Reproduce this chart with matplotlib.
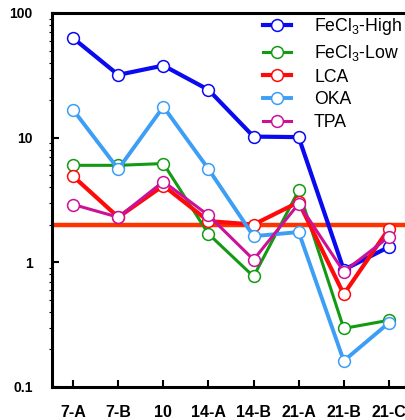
import matplotlib
matplotlib.use("Agg")
import matplotlib.pyplot as plt
from matplotlib.ticker import LogLocator, NullFormatter

categories = ["7-A", "7-B", "10", "14-A", "14-B", "21-A", "21-B", "21-C"]
fecl3_high = [62.8, 31.9, 37.9, 24.2, 10.2, 10.1, 0.87, 1.33]
fecl3_low = [6.0, 6.0, 6.2, 1.69, 0.77, 3.77, 0.295, 0.343]
lca = [4.9, 2.3, 4.13, 2.14, 2.01, 3.04, 0.555, 1.86]
oka = [16.7, 5.6, 17.7, 5.6, 1.62, 1.75, 0.162, 0.327]
tpa = [2.91, 2.3, 4.45, 2.38, 1.05, 2.95, 0.84, 1.6]
threshold = 2.0

series = [
    ("FeCl$_3$-High", fecl3_high, "#0A0AF0", 3.0),
    ("FeCl$_3$-Low", fecl3_low, "#139A13", 2.2),
    ("LCA", lca, "#FF0A0A", 3.0),
    ("OKA", oka, "#3D9EF5", 2.8),
    ("TPA", tpa, "#CC1199", 2.2),
]

plt.rcParams['font.family'] = ['Liberation Sans', 'DejaVu Sans']
plt.rcParams['mathtext.fontset'] = 'custom'
plt.rcParams['mathtext.rm'] = 'Liberation Sans'
fig = plt.figure(figsize=(4.06, 4.20), dpi=100)
ax = fig.add_axes([52/406, 1-387/420, 1-52/406, (387-13)/420])

x = list(range(len(categories)))
ax.axhline(threshold, color="#FF3300", lw=3.2, zorder=1)
draw_order = [3, 1, 4, 2, 0]
handles = {}
for i in draw_order:
    name, vals, col, lw = series[i]
    h, = ax.plot(x, vals, color=col, lw=lw, marker='o', ms=8.5,
                 mfc='white', mec=col, mew=1.1, label=name, zorder=2+i*0.1)
    handles[i] = h

ax.set_yscale('log')
ax.set_ylim(0.1, 100)
ax.set_xlim(-0.47, 7.38)
ax.set_xticks(x)
ax.set_xticklabels(categories, fontsize=11.5, fontweight='bold')
ax.set_yticks([0.1, 1, 10, 100])
ax.set_yticklabels(["0.1", "1", "10", "100"], fontsize=10, fontweight='bold')
ax.yaxis.set_minor_locator(LogLocator(base=10, subs=range(2, 10)))
ax.yaxis.set_minor_formatter(NullFormatter())
ax.tick_params(axis='x', direction='in', length=5, width=1.5, pad=13)
ax.tick_params(axis='y', which='major', direction='in', length=5, width=1.5, pad=14)
ax.tick_params(axis='y', which='minor', direction='out', length=2, width=0.8)

for s in ['left', 'bottom', 'top', 'right']:
    ax.spines[s].set_linewidth(2.2)

leg = ax.legend([handles[i] for i in range(5)], [s[0] for s in series],
                loc='upper left', frameon=False, fontsize=12.7,
                handlelength=1.6, labelspacing=0.33, handletextpad=1.3,
                bbox_to_anchor=(0.576, 1.011), borderaxespad=0.0)

fig.savefig("out.png", dpi=100)
